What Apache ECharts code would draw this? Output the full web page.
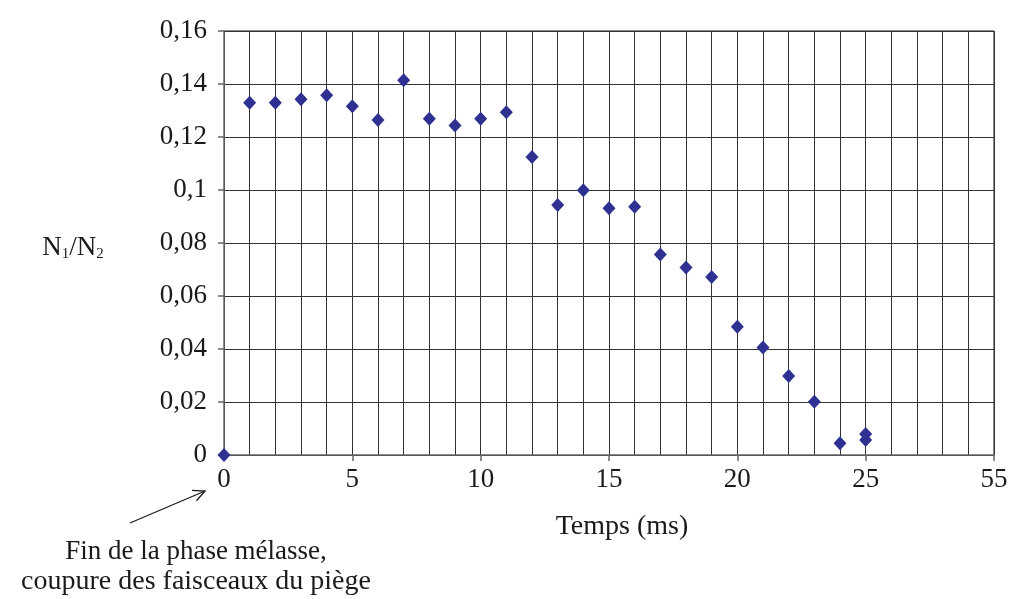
<!DOCTYPE html>
<html>
<head>
<meta charset="utf-8">
<script src="https://cdn.jsdelivr.net/npm/echarts@6/dist/echarts.min.js"></script>
<style>html,body{margin:0;padding:0;background:#fff;}#c{width:1013px;height:599px;}</style>
</head>
<body>
<div id="c"></div>
<script>
// Data
const times = [0, 1, 2, 3, 4, 5, 6, 7, 8, 9, 10, 11, 12, 13, 14, 15, 16, 17, 18, 19, 20, 21, 22, 23, 24, 25, 25];
const ratios = [0, 0.1329, 0.1329, 0.1342, 0.1358, 0.1316, 0.1264, 0.1414, 0.1269, 0.1243, 0.1269, 0.1293, 0.1125, 0.0943, 0.0999, 0.0931, 0.0937, 0.0757, 0.0708, 0.0672, 0.0484, 0.0406, 0.0298, 0.0201, 0.0044, 0.0079, 0.0057];
const xTickLabels = ['0', '5', '10', '15', '20', '25', '55'];
const yTickLabels = ['0', '0,02', '0,04', '0,06', '0,08', '0,1', '0,12', '0,14', '0,16'];

const FONT = 'Liberation Serif';
const TXT = '#1a1a1a';
const chart = echarts.init(document.getElementById('c'));

// arrow geometry (annotation)
const tail = [130, 523], tip = [205, 491];
const dx = tip[0] - tail[0], dy = tip[1] - tail[1];
const L = Math.hypot(dx, dy), ux = dx / L, uy = dy / L;
function rot(a) { const c = Math.cos(a), s = Math.sin(a); return [ux * c - uy * s, ux * s + uy * c]; }
const hl = 13, r1 = rot(0.45), r2 = rot(-0.45);
const head = [[tip[0] - hl * r1[0], tip[1] - hl * r1[1]], tip, [tip[0] - hl * r2[0], tip[1] - hl * r2[1]]];

chart.setOption({
  animation: false,
  backgroundColor: '#fff',
  grid: { left: 224, right: 19, top: 31, bottom: 144 },
  xAxis: {
    type: 'value', min: 0, max: 30, interval: 5,
    axisLine: { show: true, lineStyle: { color: '#666', width: 1.5 } },
    axisTick: { show: true, inside: false, length: 6, lineStyle: { color: '#666', width: 1.5 } },
    axisLabel: { margin: 11, fontFamily: FONT, fontSize: 27, color: TXT,
      formatter: v => xTickLabels[Math.round(v / 5)] },
    splitLine: { show: true, lineStyle: { color: '#333', width: 1 } },
    minorTick: { show: false, splitNumber: 5 },
    minorSplitLine: { show: true, lineStyle: { color: '#333', width: 1 } }
  },
  yAxis: {
    type: 'value', min: 0, max: 0.16, interval: 0.02,
    axisLine: { show: true, lineStyle: { color: '#666', width: 1.5 } },
    axisTick: { show: true, inside: false, length: 6, lineStyle: { color: '#666', width: 1.5 } },
    axisLabel: { margin: 17, fontFamily: FONT, fontSize: 27, color: TXT,
      formatter: v => yTickLabels[Math.round(v / 0.02)] },
    splitLine: { show: true, lineStyle: { color: '#333', width: 1 } }
  },
  series: [{
    type: 'scatter',
    symbol: 'diamond',
    symbolSize: [13, 14],
    itemStyle: { color: '#2E3192', opacity: 1 },
    data: times.map((t, i) => [t, ratios[i]]),
    z: 5
  }],
  graphic: [
    { type: 'line', shape: { x1: 224, y1: 31, x2: 994, y2: 31 }, style: { stroke: '#666', lineWidth: 1.5 }, silent: true },
    { type: 'line', shape: { x1: 994, y1: 31, x2: 994, y2: 455 }, style: { stroke: '#666', lineWidth: 1.5 }, silent: true },
    { type: 'text', x: 73, y: 248,
      style: { text: 'N{s|1}/N{s|2}', fontFamily: FONT, fontSize: 27, fill: TXT,
        align: 'center', verticalAlign: 'middle',
        rich: { s: { fontFamily: FONT, fontSize: 15, fill: TXT, verticalAlign: 'bottom', padding: [12, 0, 0, 0] } } } },
    { type: 'text', x: 622, y: 527,
      style: { text: 'Temps (ms)', fontFamily: FONT, fontSize: 28, fill: TXT, align: 'center', verticalAlign: 'middle' } },
    { type: 'line', shape: { x1: tail[0], y1: tail[1], x2: tip[0], y2: tip[1] }, style: { stroke: TXT, lineWidth: 1.3 } },
    { type: 'polyline', shape: { points: head }, style: { stroke: TXT, lineWidth: 1.3, fill: null } },
    { type: 'text', x: 196, y: 552,
      style: { text: 'Fin de la phase mélasse,', fontFamily: FONT, fontSize: 27, fill: TXT, align: 'center', verticalAlign: 'middle' } },
    { type: 'text', x: 196, y: 582,
      style: { text: 'coupure des faisceaux du piège', fontFamily: FONT, fontSize: 28, fill: TXT, align: 'center', verticalAlign: 'middle' } }
  ]
});
</script>
</body>
</html>
